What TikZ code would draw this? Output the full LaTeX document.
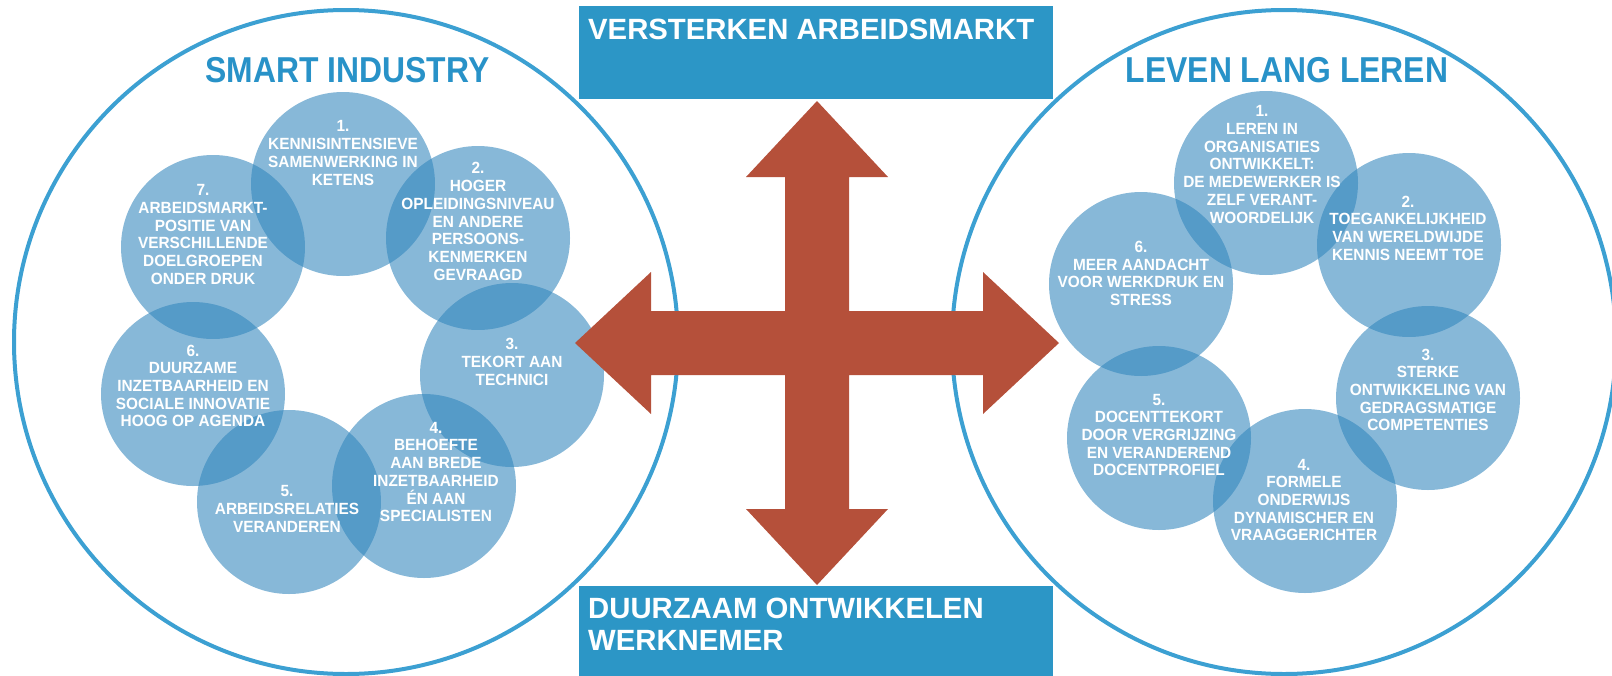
\documentclass[tikz,border=0pt]{standalone}
\usepackage{fontspec}
\setmainfont{Liberation Sans}
\newfontfamily\titlefont{Liberation Sans}[FakeStretch=0.885]
\newfontfamily\dotfont{Liberation Sans}[FakeStretch=0.95]
\definecolor{boxblue}{RGB}{44,150,198}
\definecolor{ringblue}{RGB}{60,160,210}
\definecolor{dotblue}{RGB}{49,133,188}
\definecolor{arrowred}{RGB}{181,80,58}
\definecolor{titleblue}{RGB}{40,146,200}
\tikzset{
  bigring/.style={circle, draw=ringblue, line width=4pt, minimum size=664pt, inner sep=0pt},
  dot/.style={circle, fill=dotblue, fill opacity=0.58, minimum size=184pt, inner sep=0pt},
  dottext/.style={text=white, align=center, font=\dotfont\bfseries\fontsize{16.2}{17.7}\selectfont, inner sep=0pt},
  ringtitle/.style={text=titleblue, anchor=base, font=\titlefont\bfseries\fontsize{36}{40}\selectfont, inner sep=0pt},
  bluebox/.style={fill=boxblue, anchor=north west, inner sep=0pt, minimum width=474pt},
  boxtext/.style={text=white, align=left, font=\bfseries\fontsize{29.3}{32}\selectfont, inner sep=0pt},
}
\begin{document}
\begin{tikzpicture}[x=1pt,y=-1pt]
\useasboundingbox (0,0) rectangle (1612,675);
% big rings
\node[bigring] (LC) at (346,342) {};
\node[bigring] (RC) at (1284,342) {};
% left dots
\node[dot] (L1) at (343,184) {};
\node[dot] (L2) at (478,238) {};
\node[dot] (L3) at (512,375) {};
\node[dot] (L4) at (424,486) {};
\node[dot] (L5) at (289,502) {};
\node[dot] (L6) at (193,394) {};
\node[dot] (L7) at (213,247) {};
% right dots
\node[dot] (R1) at (1266,183) {};
\node[dot] (R2) at (1409,245) {};
\node[dot] (R3) at (1428,398) {};
\node[dot] (R4) at (1305,501) {};
\node[dot] (R5) at (1159,438) {};
\node[dot] (R6) at (1141,284) {};
% boxes
\node[bluebox, minimum height=93pt] (TB) at (579,6) {};
\node[bluebox, minimum height=90pt] (BB) at (579,586) {};
% cross arrow
\coordinate (X) at (817,343);
\fill[arrowred, shift={(X)}] (0,-242) -- (71,-166) -- (32,-166) -- (32,-32) -- (166,-32) -- (166,-71) -- (242,0) -- (166,71) -- (166,32) -- (32,32) -- (32,166) -- (71,166) -- (0,242) -- (-71,166) -- (-32,166) -- (-32,32) -- (-166,32) -- (-166,71) -- (-242,0) -- (-166,-71) -- (-166,-32) -- (-32,-32) -- (-32,-166) -- (-71,-166) -- cycle;
% box texts
\node[boxtext, anchor=base west] (TBt) at (588,39) {VERSTERKEN ARBEIDSMARKT};
\node[boxtext, anchor=north west] (BBt) at (588,598) {DUURZAAM ONTWIKKELEN\\WERKNEMER};
% titles
\node[ringtitle] (LCt) at (347.5,82) {SMART INDUSTRY};
\node[ringtitle] (RCt) at (1287,82) {LEVEN LANG LEREN};
% left texts
\node[dottext] (L1t) at (343,153) {1.\\KENNISINTENSIEVE\\SAMENWERKING IN\\KETENS};
\node[dottext] (L2t) at (478,221.5) {2.\\HOGER\\OPLEIDINGSNIVEAU\\EN ANDERE\\PERSOONS-\\KENMERKEN\\GEVRAAGD};
\node[dottext] (L3t) at (512,362) {3.\\TEKORT AAN\\TECHNICI};
\node[dottext] (L4t) at (436,472) {4.\\BEHOEFTE\\AAN BREDE\\INZETBAARHEID\\ÉN AAN\\SPECIALISTEN};
\node[dottext] (L5t) at (287,509) {5.\\ARBEIDSRELATIES\\VERANDEREN};
\node[dottext] (L6t) at (193,386) {6.\\DUURZAME\\INZETBAARHEID EN\\SOCIALE INNOVATIE\\HOOG OP AGENDA};
\node[dottext] (L7t) at (203,234.5) {7.\\ARBEIDSMARKT-\\POSITIE VAN\\VERSCHILLENDE\\DOELGROEPEN\\ONDER DRUK};
% right texts
\node[dottext] (R1t) at (1262,164.5) {1.\\LEREN IN\\ORGANISATIES\\ONTWIKKELT:\\DE MEDEWERKER IS\\ZELF VERANT-\\WOORDELIJK};
\node[dottext] (R2t) at (1408,228) {2.\\TOEGANKELIJKHEID\\VAN WERELDWIJDE\\KENNIS NEEMT TOE};
\node[dottext] (R3t) at (1428,390) {3.\\STERKE\\ONTWIKKELING VAN\\GEDRAGSMATIGE\\COMPETENTIES};
\node[dottext] (R4t) at (1304,500) {4.\\FORMELE\\ONDERWIJS\\DYNAMISCHER EN\\VRAAGGERICHTER};
\node[dottext] (R5t) at (1159,435) {5.\\DOCENTTEKORT\\DOOR VERGRIJZING\\EN VERANDEREND\\DOCENTPROFIEL};
\node[dottext] (R6t) at (1141,273.5) {6.\\MEER AANDACHT\\VOOR WERKDRUK EN\\STRESS};
\end{tikzpicture}
\end{document}
